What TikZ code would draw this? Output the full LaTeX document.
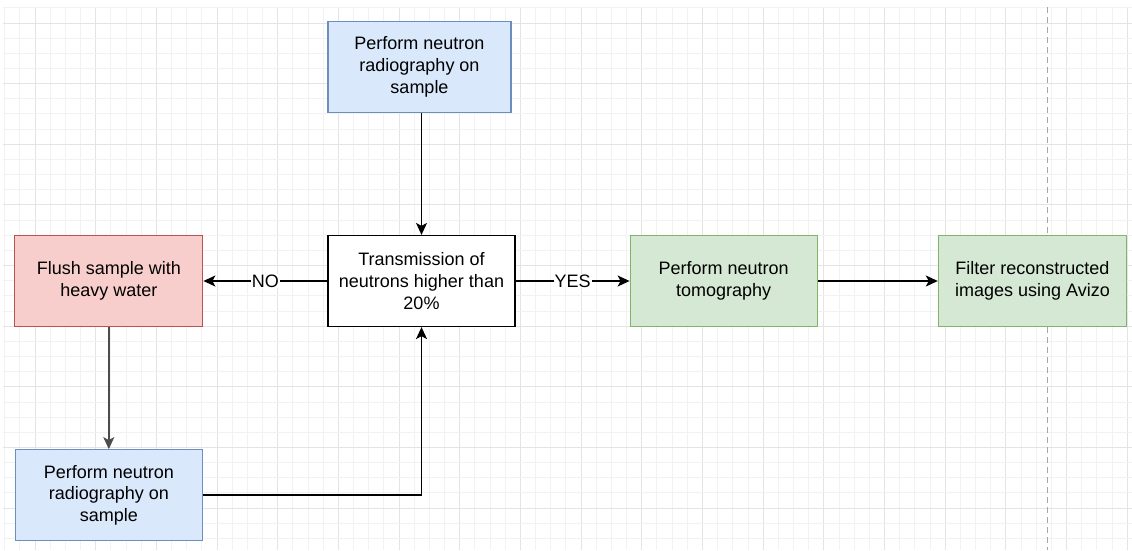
\documentclass[tikz,border=0pt]{standalone}
\usepackage{fontspec}
\setmainfont{Liberation Sans}
\usepackage{xcolor}
\usepackage{tikz}
\usetikzlibrary{positioning}
\usetikzlibrary{arrows.meta}

\definecolor{bluefill}{HTML}{DAE8FC}
\definecolor{blueline}{HTML}{6C8EBF}
\definecolor{redfill}{HTML}{F8CECC}
\definecolor{redline}{HTML}{B85450}
\definecolor{greenfill}{HTML}{D5E8D4}
\definecolor{greenline}{HTML}{82B366}
\definecolor{minorgrid}{HTML}{F2F2F2}
\definecolor{majorgrid}{HTML}{E4E4E4}

\tikzset{
  box/.style={draw, line width=1.2pt, minimum width=187pt, minimum height=91pt,
              align=center, font=\fontsize{18}{21.6}\selectfont, inner sep=2pt},
  bluebox/.style={box, fill=bluefill, draw=blueline},
  redbox/.style={box, fill=redfill, draw=redline},
  greenbox/.style={box, fill=greenfill, draw=greenline},
  plainbox/.style={box, fill=white, draw=black},
  flow/.style={line width=1.5pt, -{Stealth[length=12pt,width=11pt,inset=3pt]}},
  answer/.style={fill=white, inner sep=1pt, font=\fontsize{18}{21.6}\selectfont}
}

\begin{document}
\begin{tikzpicture}[x=1pt,y=-1pt,node distance=122pt]
\useasboundingbox (0,0) rectangle (1132,550);
\fill[white] (0,0) rectangle (1132,550);
% background grid
\foreach \k in {-2,...,72} {
  \pgfmathsetmacro{\gx}{35+\k*15.17}
  \pgfmathtruncatemacro{\major}{mod(\k+100,4)==0}
  \ifnum\major=1
    \draw[majorgrid, line width=1pt] (\gx,7) -- (\gx,550);
  \else
    \draw[minorgrid, line width=1pt] (\gx,7) -- (\gx,550);
  \fi
}
\foreach \k in {-1,...,34} {
  \pgfmathsetmacro{\gy}{23+\k*15.16}
  \pgfmathtruncatemacro{\major}{mod(\k+100,4)==0}
  \ifnum\major=1
    \draw[majorgrid, line width=1pt] (3,\gy) -- (1132,\gy);
  \else
    \draw[minorgrid, line width=1pt] (3,\gy) -- (1132,\gy);
  \fi
}
\draw[black!35, line width=1pt, dash pattern=on 6pt off 4pt] (1047,7) -- (1047,550);

% boxes
\node[plainbox] (check) at (421.5,281) {Transmission of\\neutrons higher than\\20\%};
\node[bluebox, minimum width=183pt, xshift=-2pt] (radio1) [above=of check] {Perform neutron\\radiography on\\sample};
\node[redbox, minimum width=188pt] (flush) [left=124pt of check] {Flush sample with\\heavy water};
\node[greenbox] (tomo) [right=114pt of check] {Perform neutron\\tomography};
\node[greenbox, minimum width=188pt] (filter) [right=120pt of tomo] {Filter reconstructed\\images using Avizo};
\node[bluebox] (radio2) [below=of flush] {Perform neutron\\radiography on\\sample};

% connectors
\draw[flow] (check.north |- radio1.south) -- (check.north);
\draw[flow] (check.west) -- node[answer] {NO} (flush.east);
\draw[flow] (check.east) -- node[answer] {YES} (tomo.west);
\draw[flow] (tomo.east) -- (filter.west);
\draw[flow, black!70] (flush.south) -- (radio2.north);
\draw[flow] (radio2.east) -| (check.south);
\end{tikzpicture}
\end{document}
